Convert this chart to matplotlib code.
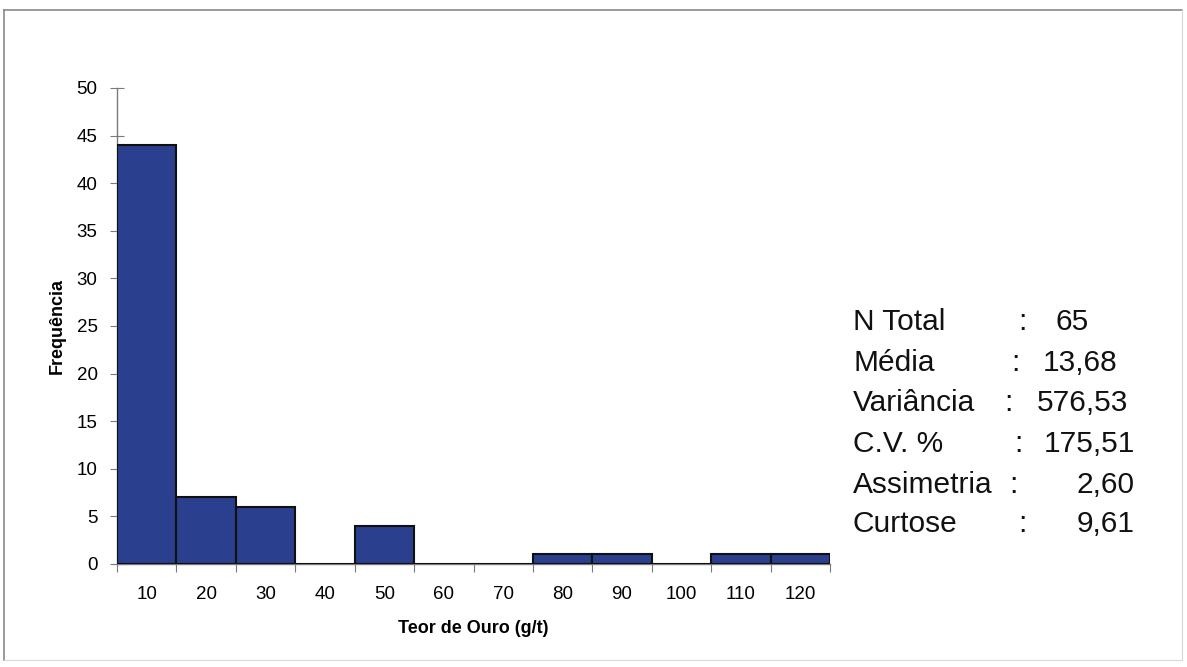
import matplotlib
matplotlib.use("Agg")
import matplotlib.pyplot as plt
from matplotlib.lines import Line2D

# ---- data ----
categories = [10, 20, 30, 40, 50, 60, 70, 80, 90, 100, 110, 120]
frequencies = [44, 7, 6, 0, 4, 0, 0, 1, 1, 0, 1, 1]
y_ticks = [0, 5, 10, 15, 20, 25, 30, 35, 40, 45, 50]
stat_names = ["N Total", "Média", "Variância", "C.V. %", "Assimetria", "Curtose"]
stat_values = ["65", "13,68", "576,53", "175,51", "2,60", "9,61"]

plt.rcParams['font.family'] = ['Liberation Sans', 'DejaVu Sans']

W, H = 1187, 667
fig = plt.figure(figsize=(W / 100, H / 100), dpi=100)

def fx(px):
    return px / W

def fy(py):
    return 1 - py / H

# outer frame
fig.add_artist(Line2D([fx(4), fx(1182)], [fy(10), fy(10)], color="#8a8a8a", lw=1.2))
fig.add_artist(Line2D([fx(4), fx(4)], [fy(10), fy(660)], color="#8a8a8a", lw=1.2))
fig.add_artist(Line2D([fx(1182), fx(1182)], [fy(10), fy(660)], color="#d8d8d8", lw=0.8))
fig.add_artist(Line2D([fx(4), fx(1182)], [fy(660), fy(660)], color="#d8d8d8", lw=0.8))

left, right, top, bottom = 117, 830, 88, 564
ax = fig.add_axes([fx(left), fy(bottom), fx(right - left), (bottom - top) / H])

width = categories[1] - categories[0]
ax.bar(categories, frequencies, width=width, color="#2a408f",
       edgecolor="#101010", linewidth=1.5, align="center", zorder=3)

ax.set_xlim(categories[0] - width / 2, categories[-1] + width / 2)
ax.set_ylim(0, 50)

for s in ["top", "right"]:
    ax.spines[s].set_visible(False)
ax.spines["left"].set_color("#7a7a7a")
ax.spines["bottom"].set_color("#7a7a7a")
ax.spines["left"].set_linewidth(1.0)
ax.spines["bottom"].set_linewidth(1.0)

edges = [c - width / 2 for c in categories] + [categories[-1] + width / 2]
ax.set_xticks(edges)
ax.set_xticklabels([])
ax.set_xticks(categories, minor=True)
ax.set_xticklabels([str(c) for c in categories], minor=True, fontsize=13.5)
ax.tick_params(axis="x", which="major", direction="out", length=6, color="#7a7a7a")
ax.tick_params(axis="x", which="minor", length=0, pad=16)

ax.set_yticks(y_ticks)
ax.set_yticklabels([str(v) for v in y_ticks], fontsize=13.5)
ax.tick_params(axis="y", direction="inout", length=10, color="#7a7a7a", pad=9)

ax.set_xlabel("Teor de Ouro (g/t)", fontsize=13, fontweight="bold", labelpad=12)
ax.set_ylabel("Frequência", fontsize=13, fontweight="bold")
ax.yaxis.set_label_coords(-0.0715, 0.5)

# statistics block
row_y = [322, 363, 403, 444, 485, 524]
colon_x = [1022, 1015, 1008, 1018, 1013, 1022]
value_right = [1089, 1117, 1128, 1135, 1135, 1135]
for i, (n, v) in enumerate(zip(stat_names, stat_values)):
    fig.text(fx(853), fy(row_y[i]), n, fontsize=21.5, ha="left", va="center", color="#111111")
    fig.text(fx(colon_x[i]), fy(row_y[i]), ":", fontsize=21.5, ha="center", va="center", color="#111111")
    fig.text(fx(value_right[i]), fy(row_y[i]), v, fontsize=21.5, ha="right", va="center", color="#111111")

fig.savefig("out.png", dpi=100)
